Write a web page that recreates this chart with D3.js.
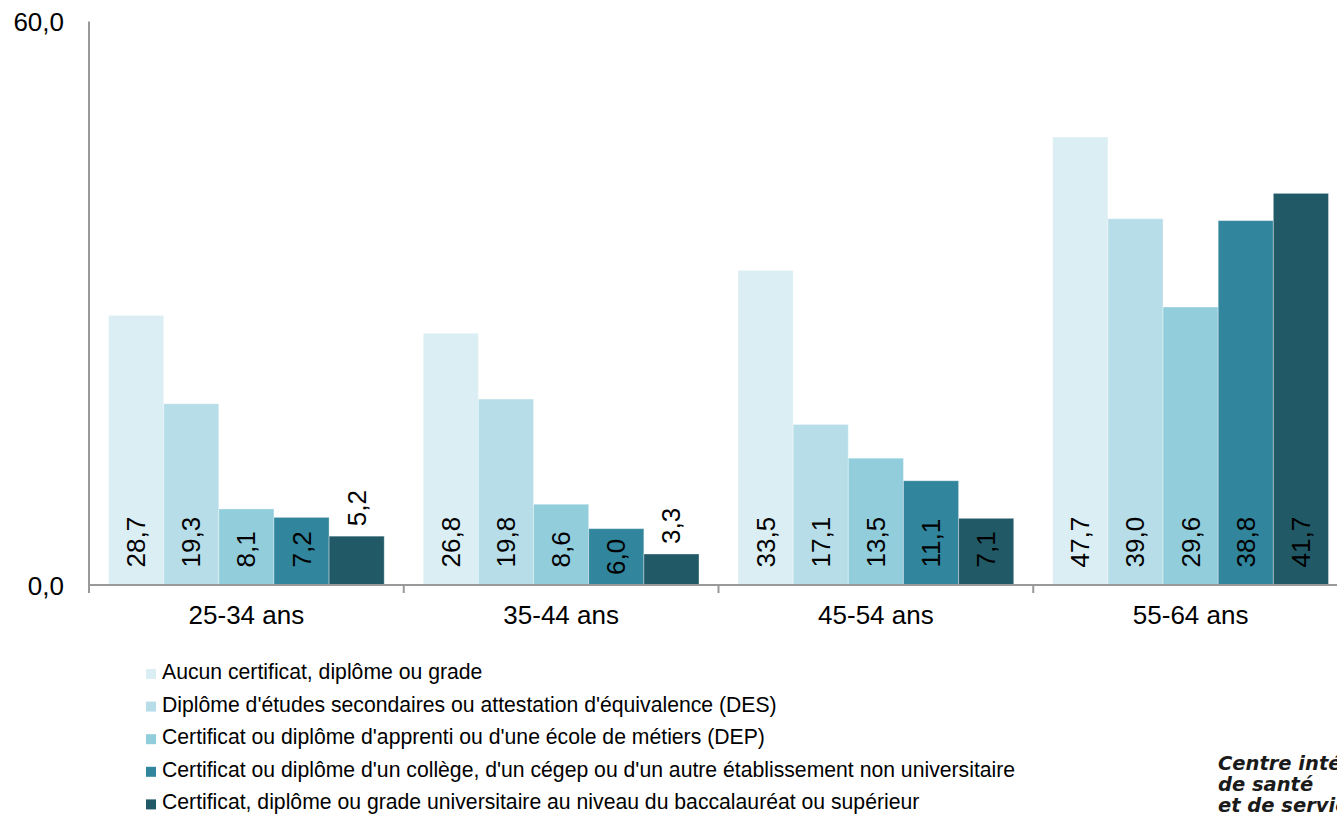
<!DOCTYPE html>
<html>
<head>
<meta charset="utf-8">
<script src="https://cdn.jsdelivr.net/npm/d3@7"></script>
<style>
  body { margin: 0; background: #fff; }
  svg { display: block; font-family: "Liberation Sans", Arial, sans-serif; }
</style>
</head>
<body>
<svg id="chart"></svg>
<script>
// Data
const categories = ["25-34 ans", "35-44 ans", "45-54 ans", "55-64 ans"];

const seriesNames = [
  "Aucun certificat, diplôme ou grade",
  "Diplôme d'études secondaires ou attestation d'équivalence (DES)",
  "Certificat ou diplôme d'apprenti ou d'une école de métiers (DEP)",
  "Certificat ou diplôme d'un collège, d'un cégep ou d'un autre établissement non universitaire",
  "Certificat, diplôme ou grade universitaire au niveau du baccalauréat ou supérieur"
];

const aucun    = [28.7, 26.8, 33.5, 47.7];
const des      = [19.3, 19.8, 17.1, 39.0];
const dep      = [8.1, 8.6, 13.5, 29.6];
const college  = [7.2, 6.0, 11.1, 38.8];
const univ     = [5.2, 3.3, 7.1, 41.7];

const yTicks = [0, 60];

const logoLines = ["Centre intégré", "de santé", "et de services sociaux"];

// Colors for series
const colors = ["#DAEEF3", "#B7DEE8", "#92CDDC", "#31859C", "#215967"];

const seriesValues = [aucun, des, dep, college, univ];

const W = 1337, H = 814;
const svg = d3.select("#chart").attr("width", W).attr("height", H);

const locale = d3.formatLocale({ decimal: ",", thousands: " ", grouping: [3], currency: ["", ""] });
const fmt = locale.format(".1f");

// Scales
const x = d3.scaleBand()
  .domain(categories)
  .range([89, 1348]);

const pad = x.bandwidth() * 0.062;
const xs = d3.scaleBand()
  .domain(d3.range(seriesNames.length))
  .range([pad, x.bandwidth() - pad]);

const y = d3.scaleLinear()
  .domain([0, 60])
  .range([585, 21.5]);

const flat = categories.flatMap((c, ci) =>
  seriesValues.map((vals, si) => ({ cat: c, s: si, v: vals[ci] }))
);

// Bars
svg.append("g")
  .selectAll("rect")
  .data(flat)
  .join("rect")
  .attr("x", d => x(d.cat) + xs(d.s))
  .attr("y", d => y(d.v))
  .attr("width", xs.bandwidth())
  .attr("height", d => y(0) - y(d.v))
  .attr("fill", d => colors[d.s])
  .attr("stroke", "#fff")
  .attr("stroke-opacity", 0.35)
  .attr("stroke-width", 1);

// Axes
const axisColor = "#999";

svg.append("line")
  .attr("x1", 89).attr("x2", 89)
  .attr("y1", y(60)).attr("y2", y(0) + 8)
  .attr("stroke", axisColor).attr("stroke-width", 2);

svg.append("line")
  .attr("x1", 89).attr("x2", W)
  .attr("y1", y(0)).attr("y2", y(0))
  .attr("stroke", axisColor).attr("stroke-width", 2);

// category separators
svg.append("g")
  .selectAll("line")
  .data(categories.slice(1))
  .join("line")
  .attr("x1", d => x(d)).attr("x2", d => x(d))
  .attr("y1", y(0)).attr("y2", y(0) + 8)
  .attr("stroke", axisColor).attr("stroke-width", 2);

const xAxis = svg.append("g")
  .attr("transform", `translate(0,${y(0)})`)
  .call(d3.axisBottom(x).tickSize(0).tickPadding(0));
xAxis.select(".domain").remove();
xAxis.selectAll("text")
  .attr("y", 39)
  .attr("dy", null)
  .attr("fill", "#000")
  .style("font-size", "26px")
  .style("font-family", "'Liberation Sans', Arial, sans-serif");

const yAxis = svg.append("g")
  .attr("transform", "translate(64,0)")
  .call(d3.axisLeft(y).tickValues(yTicks).tickSize(0).tickPadding(0).tickFormat(fmt));
yAxis.select(".domain").remove();
yAxis.selectAll("text")
  .attr("dy", "0.35em")
  .attr("fill", "#000")
  .style("font-size", "26px")
  .style("font-family", "'Liberation Sans', Arial, sans-serif");

// Value labels (rotated)
const labels = svg.append("g")
  .selectAll("text")
  .data(flat)
  .join("text")
  .style("font-size", "26px")
  .attr("fill", "#000")
  .attr("dominant-baseline", "central")
  .text(d => fmt(d.v));

labels.each(function(d) {
  const len = this.getComputedTextLength();
  const cx = x(d.cat) + xs(d.s) + xs.bandwidth() / 2;
  const h = y(0) - y(d.v);
  let anchor, ty;
  if (h < len + 18) {
    // outside end
    anchor = "start"; ty = y(d.v) - 10;
  } else if (h < len + 30) {
    // centered
    anchor = "middle"; ty = y(d.v) + h / 2;
  } else {
    // inside base
    anchor = "start"; ty = y(0) - 17.5;
  }
  d3.select(this)
    .attr("text-anchor", anchor)
    .attr("transform", `translate(${cx},${ty}) rotate(-90)`);
});

// Legend
const legend = svg.append("g").attr("transform", "translate(146,669)");
const rows = legend.selectAll("g")
  .data(seriesNames)
  .join("g")
  .attr("transform", (d, i) => `translate(0,${i * 32.6})`);

rows.append("rect")
  .attr("width", 10).attr("height", 10)
  .attr("fill", (d, i) => colors[i]);

rows.append("text")
  .attr("x", 16).attr("y", 10)
  .style("font-size", "21.2px")
  .attr("fill", "#000")
  .text(d => d);

// Logo text (clipped by the right edge, as in the original)
svg.append("g")
  .selectAll("text")
  .data(logoLines)
  .join("text")
  .attr("x", 1218)
  .attr("y", (d, i) => 770 + i * 21)
  .style("font-family", "'DejaVu Sans', sans-serif")
  .style("font-weight", "bold")
  .style("font-style", "italic")
  .style("font-size", "19.5px")
  .attr("fill", "#1a1a1a")
  .text(d => d);
</script>
</body>
</html>
